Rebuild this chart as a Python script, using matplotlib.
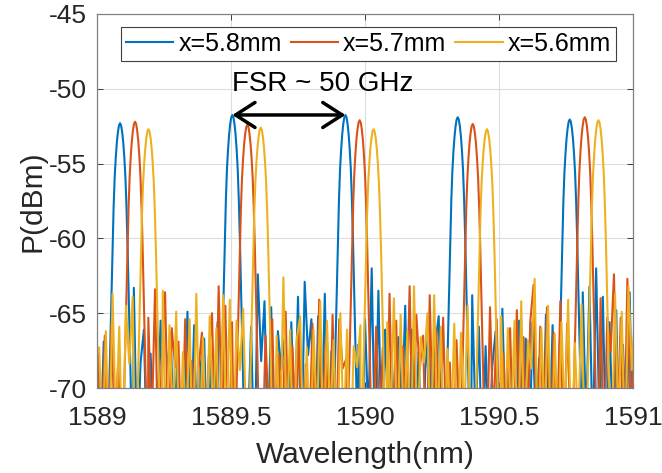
import numpy as np
import matplotlib.pyplot as plt

plt.rcParams['font.family'] = ['Liberation Sans', 'DejaVu Sans']
plt.rcParams['axes.unicode_minus'] = False

# resonance centres (nm) and peak powers (dBm) for each slot length
labels = ['x=5.8mm', 'x=5.7mm', 'x=5.6mm']
colors = ['#0072BD', '#D95319', '#EDB120']
centers = [
    [1589.086, 1589.505, 1589.927, 1590.346, 1590.764],
    [1589.142, 1589.561, 1589.980, 1590.402, 1590.820],
    [1589.192, 1589.611, 1590.032, 1590.455, 1590.871],
]
tops = [
    [-52.3, -51.75, -51.75, -51.9, -52.05],
    [-52.2, -52.4, -52.1, -52.35, -51.9],
    [-52.7, -52.6, -52.7, -52.7, -52.1],
]

# one side of a resonance: offset from centre (nm) and drop below the top (dB)
profile_dx = [0, 0.004, 0.008, 0.012, 0.016, 0.020, 0.024, 0.028, 0.032,
              0.036, 0.040, 0.044, 0.048]
profile_drop = [0, 0.15, 0.6, 1.3, 2.3, 3.6, 5.6, 8.2, 11.3,
                14.5, 17.5, 21.0, 25.0]

# OSA noise floor samples, 0.0125 nm apart from 1589 to 1591
blue_noise = [
    -67.1, -74.5, -66.9, -73.0, -66.2, -75.5, -68.1, -64.5, -74.0, -62.3,
    -72.7, -63.3, -75.0, -68.3, -66.1, -75.6, -67.7, -73.7, -72.1, -65.5,
    -75.3, -68.5, -66.3, -74.4, -67.4, -75.9, -72.3, -64.9, -73.5, -65.8,
    -74.7, -68.4, -66.7, -75.5, -68.2, -73.1, -65.6, -75.4, -64.0, -72.3,
    -63.4, -74.9, -62.7, -73.8, -62.0, -73.3, -65.9, -75.7, -62.4, -68.2,
    -64.2, -74.1, -64.6, -74.5, -66.2, -68.8, -66.7, -75.9, -65.6, -72.6,
    -63.9, -74.8, -62.9, -67.8, -65.4, -75.5, -65.2, -73.4, -63.7, -75.1,
    -67.5, -66.1, -73.9, -68.2, -66.4, -75.6, -64.7, -72.7, -67.1, -75.3,
    -65.4, -72.1, -62.0, -74.3, -63.5, -74.5, -66.1, -72.8, -67.7, -76.0,
    -66.6, -72.2, -64.5, -74.9, -66.1, -73.4, -67.6, -75.8, -68.8, -65.8,
    -74.3, -67.0, -65.2, -75.4, -65.4, -73.1, -68.0, -75.6, -65.7, -72.5,
    -64.4, -75.0, -63.8, -72.3, -65.9, -75.5, -67.2, -74.1, -68.5, -66.2,
    -75.2, -64.7, -73.0, -67.4, -75.9, -72.1, -65.5, -73.6, -66.7, -75.4,
    -65.6, -72.7, -68.0, -75.7, -65.1, -74.1, -65.8, -74.9, -68.5, -66.9,
    -75.5, -65.0, -73.3, -66.2, -74.7, -63.6, -72.4, -63.2, -74.0, -62.0,
    -72.8, -63.9, -75.1, -65.6, -73.3, -64.8, -75.6, -67.1, -73.5, -63.6,
    -74.7,
]
red_noise = [
    -67.8, -74.3, -66.5, -75.5, -65.7, -73.1, -68.3, -74.9, -67.2, -64.1,
    -73.7, -64.9, -72.3, -67.4, -75.1, -65.3, -72.9, -63.4, -75.4, -68.2,
    -63.6, -74.1, -66.0, -68.6, -66.9, -75.6, -65.4, -72.7, -68.2, -75.3,
    -68.7, -66.3, -74.8, -68.1, -65.0, -73.9, -63.2, -72.5, -64.5, -75.0,
    -65.6, -72.2, -63.9, -75.5, -64.8, -73.7, -66.1, -72.9, -65.1, -75.4,
    -66.5, -72.6, -65.4, -75.8, -67.8, -73.5, -64.9, -75.2, -67.2, -72.3,
    -66.1, -75.7, -68.4, -74.0, -65.7, -74.6, -64.1, -73.1, -66.7, -75.5,
    -65.1, -73.8, -65.4, -68.7, -68.1, -75.1, -66.3, -63.6, -74.4, -65.0,
    -72.9, -63.8, -74.7, -65.9, -72.4, -67.3, -75.8, -63.7, -74.2, -65.5,
    -75.0, -67.2, -72.7, -63.2, -74.1, -65.1, -68.8, -66.5, -75.5, -63.8,
    -73.1, -66.1, -74.6, -65.3, -73.8, -68.3, -75.4, -66.8, -73.3, -63.1,
    -74.2, -67.0, -75.6, -65.7, -68.8, -64.9, -74.9, -64.6, -72.5, -65.4,
    -75.5, -67.7, -73.6, -66.0, -74.8, -64.8, -73.1, -66.6, -75.7, -65.6,
    -63.1, -74.3, -65.9, -72.4, -64.6, -75.0, -66.3, -73.2, -64.2, -75.5,
    -65.7, -72.3, -63.2, -74.7, -63.9, -73.0, -64.3, -75.6, -67.5, -73.5,
    -64.0, -74.9, -65.3, -67.6, -62.4, -74.4, -65.3, -75.3, -62.7, -72.1,
    -66.1,
]
yellow_noise = [
    -67.3, -74.0, -66.2, -75.3, -63.7, -72.8, -65.9, -75.5, -64.5, -68.4,
    -63.9, -74.4, -62.7, -75.0, -65.1, -72.5, -65.6, -75.7, -66.3, -63.5,
    -73.9, -65.8, -72.3, -64.9, -75.2, -67.6, -73.1, -65.4, -75.5, -63.7,
    -73.4, -66.6, -74.7, -65.2, -72.2, -66.0, -75.6, -63.8, -73.5, -64.1,
    -74.9, -65.5, -68.8, -64.7, -74.1, -66.4, -75.5, -64.2, -72.9, -65.3,
    -75.3, -63.9, -72.4, -66.5, -74.6, -62.6, -73.3, -66.1, -75.8, -66.7,
    -65.2, -74.2, -67.3, -75.4, -66.1, -72.6, -64.2, -74.8, -65.5, -72.1,
    -66.8, -75.5, -65.0, -73.2, -66.1, -74.9, -67.2, -68.6, -65.8, -74.3,
    -64.6, -75.1, -63.4, -72.7, -66.9, -75.6, -65.6, -72.3, -64.0, -74.5,
    -65.1, -73.4, -66.2, -75.7, -63.2, -73.8, -66.6, -68.3, -65.0, -75.2,
    -63.8, -73.0, -65.9, -75.5, -67.4, -73.9, -65.7, -74.7, -66.3, -72.2,
    -64.5, -75.4, -65.4, -73.1, -67.1, -75.6, -64.3, -73.6, -63.1, -72.4,
    -65.2, -74.9, -66.0, -72.8, -65.5, -75.5, -64.2, -74.3, -66.8, -68.7,
    -62.7, -75.1, -66.0, -72.6, -64.5, -75.7, -66.4, -74.0, -65.6, -72.3,
    -64.1, -75.4, -67.0, -72.9, -64.4, -74.4, -63.5, -75.5, -65.9, -73.1,
    -64.8, -73.7, -66.3, -75.3, -63.7, -72.5, -64.9, -74.8, -63.2, -68.8,
    -65.4,
]
noises = [blue_noise, red_noise, yellow_noise]
grid_shift = [0.0, 0.004, 0.008]   # the three sweeps were not sampled in step

xticks = [1589, 1589.5, 1590, 1590.5, 1591]
xticklabels = ['1589', '1589.5', '1590', '1590.5', '1591']
yticks = [-70, -65, -60, -55, -50, -45]


def build_trace(cs, ts, noise, shift):
    dx = np.array(profile_dx)
    drop = np.array(profile_drop)
    dx_full = np.concatenate([-dx[::-1], dx[1:]])
    drop_full = np.concatenate([drop[::-1], drop[1:]])
    grid = np.linspace(1589, 1591, len(noise)) + shift
    xs, ys = [], []
    for x, v in zip(grid, noise):
        if min(abs(x - c) for c in cs) > profile_dx[-1]:
            xs.append(x)
            ys.append(v)
    for c, t in zip(cs, ts):
        xs += list(c + dx_full)
        ys += list(t - drop_full)
    order = np.argsort(xs)
    return np.array(xs)[order], np.array(ys)[order]


fig = plt.figure(figsize=(6.62, 4.73), dpi=100)
ax = fig.add_axes([97 / 662, 85 / 473, 536 / 662, 374 / 473])

for cs, ts, noise, sh, col, lab in zip(centers, tops, noises, grid_shift,
                                       colors, labels):
    x, y = build_trace(cs, ts, noise, sh)
    ax.plot(x, y, color=col, lw=1.5, label=lab)

ax.set_xlim(1589, 1591)
ax.set_ylim(-70, -45)
ax.set_xticks(xticks)
ax.set_xticklabels(xticklabels)
ax.set_yticks(yticks)
ax.grid(True, color='#dcdcdc', lw=0.8)
ax.set_axisbelow(True)
ax.tick_params(direction='in', top=True, right=True, labelsize=19,
               colors='#262626', length=4, width=0.6)
ax.tick_params(axis='x', pad=13)
ax.tick_params(axis='y', pad=7)
for s in ax.spines.values():
    s.set_color('#808080')
    s.set_linewidth(0.9)

ax.set_xlabel('Wavelength(nm)', fontsize=21.5, color='#262626', labelpad=8)
ax.set_ylabel('P(dBm)', fontsize=21.5, color='#262626', labelpad=2)

leg = ax.legend(loc='upper center', bbox_to_anchor=(0.5065, 0.965), ncol=3,
                fontsize=18, handlelength=1.9, handletextpad=0.2,
                columnspacing=0.36, borderpad=0.2, borderaxespad=0,
                fancybox=False, framealpha=1, edgecolor='#404040')
leg.get_frame().set_linewidth(0.8)

ax.annotate('', xy=(1589.505, -51.75), xytext=(1589.927, -51.75),
            arrowprops=dict(arrowstyle='<->,head_length=0.7,head_width=0.45',
                            color='black', lw=2.5, mutation_scale=20,
                            shrinkA=0, shrinkB=0))
ax.text(1589.505, -49.65, 'FSR ~ 50 GHz', fontsize=20, color='black',
        ha='left', va='center')

fig.savefig('out.png', dpi=100)
